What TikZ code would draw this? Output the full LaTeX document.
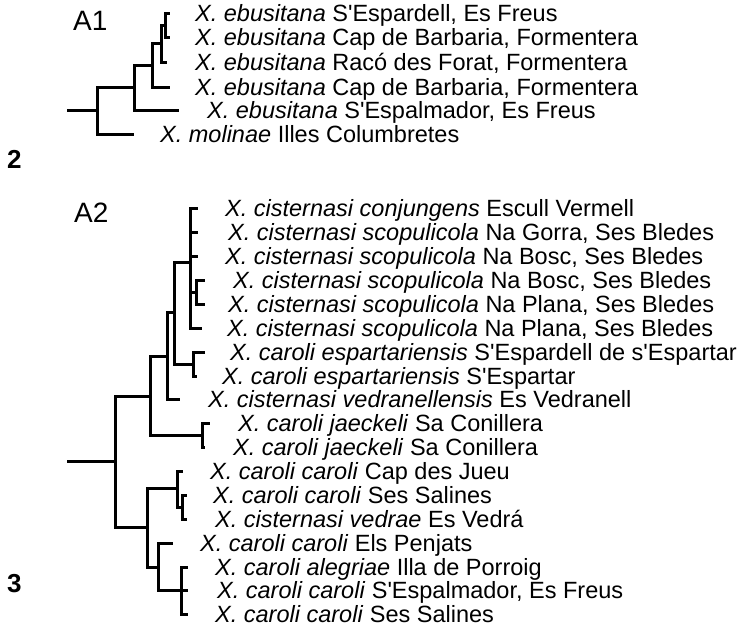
\documentclass[tikz,border=0pt]{standalone}
\usepackage{fontspec}
\setmainfont{Liberation Sans}
\newcommand{\apos}{\textquotesingle}
\tikzset{
  br/.style={line width=3pt, black},
  lab/.style={anchor=base west, inner sep=0pt, yshift=-8.4pt, font=\fontsize{23.5}{24}\selectfont},
  tag/.style={anchor=base west, inner sep=0pt, font=\fontsize{28}{30}\selectfont},
  fignum/.style={anchor=base west, inner sep=0pt, font=\fontsize{26}{28}\selectfont\bfseries},
}

\begin{document}
\begin{tikzpicture}[x=1pt, y=-1pt]
  \useasboundingbox (0,0) rectangle (738,627);

  % panel A1
  \node[tag] (ta1) at (73,30) {A1};
  \node[fignum] (f2) at (7,168) {2};

  \coordinate (as) at (67,110);
  \coordinate (ar) at (97,110);
  \coordinate (an5) at (134,87);
  \coordinate (an4) at (152,65);
  \coordinate (an3) at (161,43);
  \coordinate (an2) at (165,25);
  \coordinate (ae1) at (170,13);
  \coordinate (ae2) at (170,37);
  \coordinate (ae3) at (167,62);
  \coordinate (ae4) at (170,87);
  \coordinate (ae5) at (179,110);
  \coordinate (ae6) at (134,134);

  \draw[br] (as) -- (ar);
  \draw[br] (ar) |- (an5); \draw[br] (ar) |- (ae6);
  \draw[br] (an5) |- (an4); \draw[br] (an5) |- (ae5);
  \draw[br] (an4) |- (an3); \draw[br] (an4) |- (ae4);
  \draw[br] (an3) |- (an2); \draw[br] (an3) |- (ae3);
  \draw[br] (an2) |- (ae1); \draw[br] (an2) |- (ae2);

  \node[lab] (al1) at (195,13) {\textit{X. ebusitana} S\apos Espardell, Es Freus};
  \node[lab] (al2) at (195,37) {\textit{X. ebusitana} Cap de Barbaria, Formentera};
  \node[lab] (al3) at (195,62) {\textit{X. ebusitana} Racó des Forat, Formentera};
  \node[lab] (al4) at (195,87) {\textit{X. ebusitana} Cap de Barbaria, Formentera};
  \node[lab] (al5) at (207,110) {\textit{X. ebusitana} S\apos Espalmador, Es Freus};
  \node[lab] (al6) at (160,134) {\textit{X. molinae} Illes Columbretes};

  % panel A2
  \node[tag] (ta2) at (74,222) {A2};
  \node[fignum] (f3) at (7,592) {3};

  \coordinate (bs) at (67,461);
  \coordinate (br) at (115,461);
  \coordinate (bup) at (150,396);
  \coordinate (b9) at (167,356);
  \coordinate (b8) at (174,312);
  \coordinate (bcis) at (190,262);
  \coordinate (b45) at (196,292);
  \coordinate (besp) at (193,364);
  \coordinate (bjae) at (202,435);
  \coordinate (blo) at (147,527);
  \coordinate (bcc) at (177,488);
  \coordinate (bcv) at (182,507);
  \coordinate (bpe) at (158,567);
  \coordinate (bpo) at (181,590);

  \coordinate (be1) at (198,208);
  \coordinate (be2) at (198,232);
  \coordinate (be3) at (198,256);
  \coordinate (be4) at (205,280);
  \coordinate (be5) at (205,304);
  \coordinate (be6) at (202,328);
  \coordinate (be7) at (205,352);
  \coordinate (be8) at (197,376);
  \coordinate (be9) at (180,399);
  \coordinate (be10) at (210,423);
  \coordinate (be11) at (205,447);
  \coordinate (be12) at (183,471);
  \coordinate (be13) at (187,495);
  \coordinate (be14) at (187,519);
  \coordinate (be15) at (173,543);
  \coordinate (be16) at (188,567);
  \coordinate (be17) at (188,590);
  \coordinate (be18) at (188,614);

  \draw[br] (bs) -- (br);
  \draw[br] (br) |- (bup); \draw[br] (br) |- (blo);
  \draw[br] (bup) |- (b9); \draw[br] (bup) |- (bjae);
  \draw[br] (b9) |- (b8); \draw[br] (b9) |- (be9);
  \draw[br] (b8) |- (bcis); \draw[br] (b8) |- (besp);
  \draw[br] (bcis) |- (be1); \draw[br] (bcis) |- (be2); \draw[br] (bcis) |- (be3);
  \draw[br] (bcis) |- (b45); \draw[br] (bcis) |- (be6);
  \draw[br] (b45) |- (be4); \draw[br] (b45) |- (be5);
  \draw[br] (besp) |- (be7); \draw[br] (besp) |- (be8);
  \draw[br] (bjae) |- (be10); \draw[br] (bjae) |- (be11);
  \draw[br] (blo) |- (bcc); \draw[br] (blo) |- (bpe);
  \draw[br] (bcc) |- (be12); \draw[br] (bcc) |- (bcv);
  \draw[br] (bcv) |- (be13); \draw[br] (bcv) |- (be14);
  \draw[br] (bpe) |- (be15); \draw[br] (bpe) |- (bpo);
  \draw[br] (bpo) |- (be16); \draw[br] (bpo) |- (be17); \draw[br] (bpo) |- (be18);

  \node[lab] (bl1) at (225,208) {\textit{X. cisternasi conjungens} Escull Vermell};
  \node[lab] (bl2) at (228,232) {\textit{X. cisternasi scopulicola} Na Gorra, Ses Bledes};
  \node[lab] (bl3) at (225,256) {\textit{X. cisternasi scopulicola} Na Bosc, Ses Bledes};
  \node[lab] (bl4) at (233,280) {\textit{X. cisternasi scopulicola} Na Bosc, Ses Bledes};
  \node[lab] (bl5) at (228,304) {\textit{X. cisternasi scopulicola} Na Plana, Ses Bledes};
  \node[lab] (bl6) at (227,328) {\textit{X. cisternasi scopulicola} Na Plana, Ses Bledes};
  \node[lab] (bl7) at (230,352) {\textit{X. caroli espartariensis} S\apos Espardell de s\apos Espartar};
  \node[lab] (bl8) at (222,376) {\textit{X. caroli espartariensis} S\apos Espartar};
  \node[lab] (bl9) at (208,399) {\textit{X. cisternasi vedranellensis} Es Vedranell};
  \node[lab] (bl10) at (238,423) {\textit{X. caroli jaeckeli} Sa Conillera};
  \node[lab] (bl11) at (233,447) {\textit{X. caroli jaeckeli} Sa Conillera};
  \node[lab] (bl12) at (210,471) {\textit{X. caroli caroli} Cap des Jueu};
  \node[lab] (bl13) at (213,495) {\textit{X. caroli caroli} Ses Salines};
  \node[lab] (bl14) at (215,519) {\textit{X. cisternasi vedrae} Es Vedrá};
  \node[lab] (bl15) at (200,543) {\textit{X. caroli caroli} Els Penjats};
  \node[lab] (bl16) at (215,567) {\textit{X. caroli alegriae} Illa de Porroig};
  \node[lab] (bl17) at (217,590) {\textit{X. caroli caroli} S\apos Espalmador, Es Freus};
  \node[lab] (bl18) at (215,614) {\textit{X. caroli caroli} Ses Salines};
\end{tikzpicture}
\end{document}
